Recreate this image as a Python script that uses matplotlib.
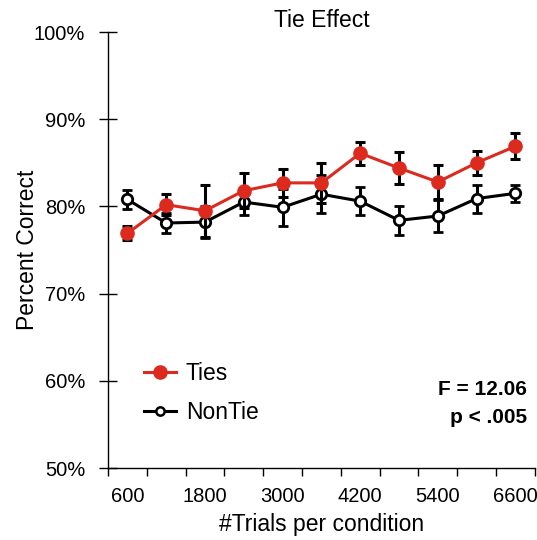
import matplotlib.pyplot as plt
from matplotlib.lines import Line2D
import numpy as np

plt.rcParams['font.family'] = ['Liberation Sans', 'DejaVu Sans']

# data
trials = [600, 1200, 1800, 2400, 3000, 3600, 4200, 4800, 5400, 6000, 6600]
ties = [76.9, 80.2, 79.5, 81.8, 82.7, 82.7, 86.1, 84.4, 82.8, 85.0, 86.9]
ties_err = [0.8, 1.2, 3.0, 2.0, 1.6, 2.3, 1.3, 1.8, 2.0, 1.4, 1.5]
nontie = [80.8, 78.1, 78.2, 80.5, 79.9, 81.4, 80.6, 78.4, 78.9, 80.9, 81.5]
nontie_err = [1.1, 1.2, 1.8, 1.5, 2.1, 2.2, 1.6, 1.7, 1.8, 1.6, 1.0]
shown_labels = [600, 1800, 3000, 4200, 5400, 6600]

red = '#dc2a1e'
x = np.arange(len(trials))

fig = plt.figure(figsize=(5.37, 5.40), dpi=100)
ax = fig.add_axes([0.201, 0.1333, 0.795, 0.8074])

ax.errorbar(x, nontie, yerr=nontie_err, color='black', lw=2.2, marker='o',
            ms=7.5, mfc='white', mec='black', mew=2, elinewidth=2.2,
            capsize=3.6, capthick=2.2, zorder=2)
ax.errorbar(x, ties, yerr=ties_err, color=red, ecolor='black', lw=2.2,
            marker='o', ms=9.5, mfc=red, mec=red, elinewidth=2.2,
            capsize=3.6, capthick=2.2, zorder=3)

ax.set_xlim(-0.5, len(trials) - 0.5)
ax.set_ylim(50, 100)
ax.set_yticks(np.arange(50, 101, 10))
ax.set_yticklabels([f'{v}%' for v in range(50, 101, 10)])

# category style x axis: ticks at boundaries, labels every other category
ax.set_xticks(np.arange(-0.5, len(trials), 1.0), minor=True)
ax.set_xticks([trials.index(t) for t in shown_labels])
ax.set_xticklabels([str(t) for t in shown_labels])
ax.tick_params(axis='x', which='major', length=0, labelsize=14.5, pad=14)
ax.tick_params(axis='x', which='minor', length=6, width=1, direction='out')
ax.tick_params(axis='y', length=13, width=1, direction='inout', labelsize=14.5, pad=10)

for s in ['top', 'right']:
    ax.spines[s].set_visible(False)
for s in ['left', 'bottom']:
    ax.spines[s].set_linewidth(1)

ax.set_title('Tie Effect', fontsize=16.5, pad=-4)
ax.set_xlabel('#Trials per condition', fontsize=16.5, labelpad=5)
ax.set_ylabel('Percent Correct', fontsize=16.5, labelpad=-4)

handles = [
    Line2D([], [], color=red, lw=2.2, marker='o', ms=9.5, mfc=red, mec=red),
    Line2D([], [], color='black', lw=2.2, marker='o', ms=6, mfc='white',
           mec='black', mew=1.8),
]
ax.legend(handles, ['Ties', 'NonTie'], loc='upper left',
          bbox_to_anchor=(0.035, 0.29), frameon=False, fontsize=16.5,
          handlelength=1.4, labelspacing=0.7, handletextpad=0.45)

ax.text(0.981, 0.179, 'F = 12.06', transform=ax.transAxes, ha='right',
        va='center', fontsize=15, fontweight='bold')
ax.text(0.981, 0.117, 'p < .005', transform=ax.transAxes, ha='right',
        va='center', fontsize=15, fontweight='bold')

plt.savefig('out.png', dpi=100)
